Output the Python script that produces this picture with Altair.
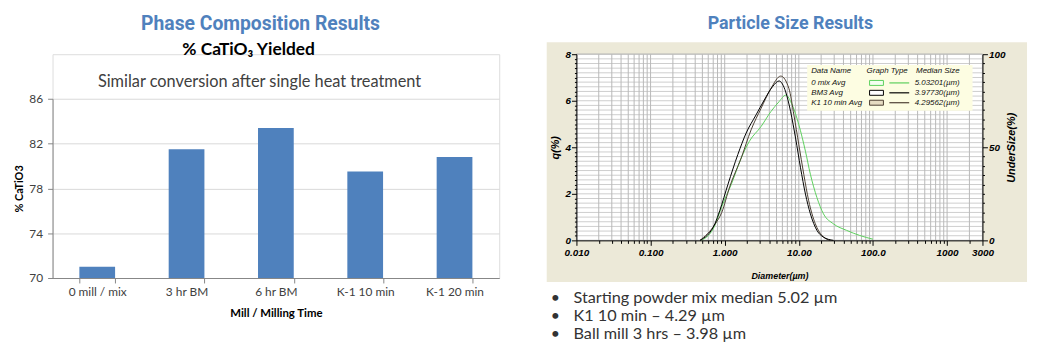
import altair as alt
import pandas as pd

# ---------------- data ----------------
mill_labels = ["0 mill / mix", "3 hr BM", "6 hr BM", "K-1 10 min", "K-1 20 min"]
catio3_pct = [71.0, 81.5, 83.4, 79.5, 80.8]
bar_y_ticks = [70, 74, 78, 82, 86]
left_title = ["Phase Composition Results"]
left_subtitle = ["% CaTiO₃ Yielded"]
left_note = ["Similar conversion after single heat treatment"]
right_title = ["Particle Size Results"]

series_names = ["0 mix Avg", "BM3 Avg", "K1 10 min Avg"]
median_sizes = ["5.03201(µm)", "3.97730(µm)", "4.29562(µm)"]
legend_headers = ["Data Name", "Graph Type", "Median Size"]

mix_d = [0.489, 0.736, 0.904, 1.228, 1.67, 2.154, 3.09, 4.19, 5.41, 6.65, 8.14, 10.0,
         12.28, 14.32, 17.54, 21.5, 29.3, 44.1, 66.5, 100.0]
mix_q = [0.0, 0.64, 1.42, 2.41, 3.54, 4.26, 4.89, 5.53, 5.96, 6.24, 5.82, 4.97,
         3.83, 2.84, 1.84, 1.14, 0.71, 0.43, 0.21, 0.05]
bm3_d = [0.464, 0.736, 0.858, 1.107, 1.504, 1.946, 2.646, 3.415, 4.406, 5.41, 6.65,
         7.75, 9.03, 10.54, 12.28, 14.32, 17.54, 21.5, 29.3]
bm3_q = [0.0, 0.71, 1.28, 2.41, 3.69, 4.61, 5.39, 6.03, 6.60, 6.85, 6.38,
         5.53, 4.40, 3.12, 1.99, 1.14, 0.43, 0.14, 0.0]
k1_d = [0.464, 0.736, 0.912, 1.166, 1.67, 2.27, 3.09, 4.19, 5.70, 7.36, 8.58, 10.0,
        11.66, 13.59, 16.7, 20.5, 26.5]
k1_q = [0.0, 0.68, 1.20, 2.30, 3.54, 4.75, 5.67, 6.52, 7.06, 6.52, 5.39, 4.11,
        2.84, 1.70, 0.71, 0.21, 0.0]

diam_tick_values = [0.01, 0.1, 1, 10, 100, 1000, 3000]
diam_tick_labels = ["0.010", "0.100", "1.000", "10.00", "100.0", "1000", "3000"]
decade_starts = [0.01, 0.1, 1, 10, 100, 1000]
decade_steps = [1, 2, 3, 4, 5, 6, 7, 8, 9]
q_minor = [round(i * 0.2, 1) for i in range(41)]
under_minor = list(range(0, 101, 5))

bullet_lines = ["Starting powder mix median 5.02 µm",
                "K1 10 min – 4.29 µm",
                "Ball mill 3 hrs – 3.98 µm"]

# ---------------- styles ----------------
BLUE = "#4f81bd"
TFONT = "Roboto"
BFONT = "Lato"
AFONT = "Liberation Sans"
series_colors = ["#5ccf5c", "#000000", "#4d4033"]
swatch_fills = ["#f4fff0", "#ffffff", "#e6dcc2"]

grid_x = sorted(set([round(m * d, 6) for d in decade_starts for m in decade_steps
                     if m * d <= 3000] + [3000]))

one = pd.DataFrame({"k": [0]})

# ---------------- left: bar chart ----------------
W1, H1 = 451, 226
df_bar = pd.DataFrame({"mill": mill_labels, "pct": catio3_pct})

bars = alt.Chart(df_bar).mark_bar(color=BLUE).encode(
    x=alt.X("mill:N", sort=mill_labels,
            scale=alt.Scale(paddingInner=0.6, paddingOuter=0.3),
            axis=alt.Axis(title="Mill / Milling Time", labelAngle=0, tickBand="extent",
                          tickSize=5, labelFont=BFONT, labelFontSize=12, labelColor="#404040",
                          labelPadding=4, titleFont=BFONT, titleFontSize=11.5,
                          titleFontWeight="bold", titleColor="#000000", titlePadding=10,
                          domainColor="#868686", tickColor="#868686", grid=False)),
    y=alt.Y("pct:Q", scale=alt.Scale(domain=[70, 86], nice=False, zero=False,
                                     range=[H1, 45]),
            axis=alt.Axis(values=bar_y_ticks, title="% CaTiO3", tickSize=5,
                          labelFont=BFONT, labelFontSize=12, labelColor="#404040",
                          labelPadding=5, titleFont=BFONT, titleFontSize=11,
                          titleFontWeight="bold", titleColor="#000000", titlePadding=4,
                          domainColor="#868686", tickColor="#868686",
                          grid=True, gridColor="#d9d9d9")),
    y2=alt.datum(70),
)

t1 = alt.Chart(pd.DataFrame({"t": left_title})).mark_text(
    font=TFONT, fontSize=19.5, fontWeight="bold", color=BLUE, baseline="middle",
    align="center").encode(text="t:N", x=alt.value(210), y=alt.value(-30))
t2 = alt.Chart(pd.DataFrame({"t": left_subtitle})).mark_text(
    font=BFONT, fontSize=17.5, fontWeight="bold", color="#000000", baseline="middle",
    align="center").encode(text="t:N", x=alt.value(198), y=alt.value(-4))
note = alt.Chart(pd.DataFrame({"t": left_note})).mark_text(
    font=BFONT, fontSize=16.5, color="#404040", baseline="middle", align="center"
).encode(text="t:N", x=alt.value(209), y=alt.value(28))

left = alt.layer(bars, t1, t2, note).properties(width=W1, height=H1)

# ---------------- right: particle size ----------------
W2, H2 = 410, 188
x_scale = alt.Scale(type="log", domain=[0.01, 3000], nice=False)
q_scale = alt.Scale(domain=[0, 8], nice=False)
row_scale = alt.Scale(domain=[0, 2], range=[29, 49], nice=False, zero=False)
bullet_scale = alt.Scale(domain=[0, 2], range=[246, 283], nice=False, zero=False)
color_scale = alt.Scale(domain=series_names, range=series_colors)

major_test = "indexof(" + str(diam_tick_values) + ", datum.value) >= 0"
label_expr = " : ".join(
    f"datum.value == {v} ? '{l}'" for v, l in zip(diam_tick_values, diam_tick_labels)
) + " : ''"

x_axis = alt.Axis(values=grid_x, labelExpr=label_expr, title="Diameter(µm)",
                  tickSize={"condition": {"test": major_test, "value": 5}, "value": 3},
                  labelFont=AFONT, labelFontSize=10, labelFontStyle="italic",
                  labelFontWeight="bold", labelColor="#000000", labelPadding=2,
                  titleFont=AFONT, titleFontSize=9, titleFontStyle="italic",
                  titleFontWeight="bold", titleColor="#000000", titlePadding=14,
                  domainColor="#000000", tickColor="#000000", grid=False, zindex=1,
                  labelFlush=False, labelOverlap=False)

even_test = "abs(datum.value - 2*round(datum.value/2)) < 0.01"
q_axis = alt.Axis(orient="left", values=q_minor,
                  labelExpr=f"({even_test}) ? format(datum.value, 'd') : ''",
                  tickSize={"condition": {"test": even_test, "value": 5}, "value": 2},
                  title="q(%)", labelFont=AFONT, labelFontSize=10, labelFontStyle="italic",
                  labelFontWeight="bold", labelColor="#000000", labelPadding=1,
                  titleFont=AFONT, titleFontSize=11, titleFontStyle="italic",
                  titleFontWeight="bold", titleColor="#000000", titlePadding=5,
                  domainColor="#000000", tickColor="#000000", grid=False, zindex=1,
                  labelOverlap=False, labelFlush=False)

under_axis = alt.Axis(orient="right", values=under_minor,
                      labelExpr="datum.value % 50 == 0 ? format(datum.value, 'd') : ''",
                      tickSize={"condition": {"test": "datum.value % 50 == 0", "value": 5},
                                "value": 2},
                      title="UnderSize(%)", titleAngle=270, labelFont=AFONT,
                      labelFontSize=10, labelFontStyle="italic", labelFontWeight="bold",
                      labelColor="#000000", labelPadding=1, titleFont=AFONT,
                      titleFontSize=11, titleFontStyle="italic", titleFontWeight="bold",
                      titleColor="#000000", titlePadding=12, domainColor="#000000",
                      tickColor="#000000", grid=False, zindex=1, labelOverlap=False,
                      labelFlush=False)

panel_bg = alt.Chart(one).mark_rect(color="#ece9d8").encode(
    x=alt.value(-30), x2=alt.value(455), y=alt.value(-12), y2=alt.value(230))
plot_bg = alt.Chart(one).mark_rect(fill="#ffffff", stroke="#9a9a9a", strokeWidth=1).encode(
    x=alt.value(0), x2=alt.value(W2), y=alt.value(0), y2=alt.value(H2))

vgrid = alt.Chart(pd.DataFrame({"gx": grid_x})).mark_rule(
    color="#b8b8b8", strokeWidth=1).encode(
    x=alt.X("gx:Q", scale=x_scale, axis=x_axis))
hgrid = alt.Chart(pd.DataFrame({"gq": q_minor})).mark_rule(
    color="#cdcdcd", strokeWidth=1).encode(
    y=alt.Y("gq:Q", scale=q_scale, axis=None))

df_curves = pd.concat([
    pd.DataFrame({"d": mix_d, "q": mix_q, "series": series_names[0]}),
    pd.DataFrame({"d": k1_d, "q": k1_q, "series": series_names[2]}),
    pd.DataFrame({"d": bm3_d, "q": bm3_q, "series": series_names[1]}),
], ignore_index=True)

curves = alt.Chart(df_curves).mark_line(strokeWidth=1, interpolate="monotone").encode(
    x=alt.X("d:Q", scale=x_scale, axis=x_axis),
    y=alt.Y("q:Q", scale=q_scale, axis=q_axis),
    color=alt.Color("series:N", scale=color_scale, legend=None),
    detail="series:N",
)

under = alt.Chart(pd.DataFrame({"u": [0, 100]})).mark_point(opacity=0).encode(
    y=alt.Y("u:Q", scale=alt.Scale(domain=[0, 100], nice=False), axis=under_axis))

legend_box = alt.Chart(one).mark_rect(color="#fdfde2").encode(
    x=alt.value(233), x2=alt.value(400), y=alt.value(11), y2=alt.value(57))

hdr_x = [237, 293, 343]
headers = [
    alt.Chart(pd.DataFrame({"h": [h]})).mark_text(
        font=AFONT, fontSize=8, fontStyle="italic", color="#111111",
        align="left", baseline="middle").encode(
        text="h:N", x=alt.value(xp), y=alt.value(17))
    for h, xp in zip(legend_headers, hdr_x)
]

df_leg = pd.DataFrame({"name": series_names, "median": median_sizes, "row": [0, 1, 2]})
leg_names = alt.Chart(df_leg).mark_text(
    font=AFONT, fontSize=8, fontStyle="italic", color="#111111",
    align="left", baseline="middle").encode(
    text="name:N", x=alt.value(237), y=alt.Y("row:Q", scale=row_scale, axis=None))
leg_swatch = alt.Chart(df_leg).mark_point(
    shape="M-1.4,-0.5H1.4V0.5H-1.4Z", size=100, filled=True, strokeWidth=1, opacity=1).encode(
    x=alt.value(303), y=alt.Y("row:Q", scale=row_scale, axis=None),
    fill=alt.Fill("name:N", scale=alt.Scale(domain=series_names, range=swatch_fills),
                  legend=None),
    stroke=alt.Stroke("name:N", scale=color_scale, legend=None))
leg_line = alt.Chart(df_leg).mark_rule(strokeWidth=1.2).encode(
    x=alt.value(316), x2=alt.value(336), y=alt.Y("row:Q", scale=row_scale, axis=None),
    color=alt.Color("name:N", scale=color_scale, legend=None))
leg_median = alt.Chart(df_leg).mark_text(
    font=AFONT, fontSize=8, fontStyle="italic", color="#111111",
    align="right", baseline="middle").encode(
    text="median:N", x=alt.value(387), y=alt.Y("row:Q", scale=row_scale, axis=None))

df_bul = pd.DataFrame({"t": bullet_lines, "row": [0, 1, 2]})
bul_dots = alt.Chart(df_bul).mark_text(
    text="•", font=BFONT, fontSize=16, color="#333333", align="left", baseline="middle").encode(
    x=alt.value(-26), y=alt.Y("row:Q", scale=bullet_scale, axis=None))
bul_text = alt.Chart(df_bul).mark_text(
    font=BFONT, fontSize=16.4, color="#333333", align="left", baseline="middle").encode(
    text="t:N", x=alt.value(-3), y=alt.Y("row:Q", scale=bullet_scale, axis=None))

rtitle = alt.Chart(pd.DataFrame({"t": right_title})).mark_text(
    font=TFONT, fontSize=18, fontWeight="bold", color=BLUE, baseline="middle",
    align="center").encode(text="t:N", x=alt.value(216), y=alt.value(-30))

right = alt.layer(
    panel_bg, plot_bg, hgrid, vgrid, curves, under, legend_box, *headers,
    leg_names, leg_swatch, leg_line, leg_median, bul_dots, bul_text, rtitle
).resolve_scale(y="independent").properties(width=W2, height=H2)

chart = alt.hconcat(left, right, spacing=46).properties(
    padding={"left": 5, "top": 4, "right": 2, "bottom": 0}
).configure_view(stroke=None).configure(background="#ffffff")

chart.save("out.html", embed_options={"renderer": "svg", "actions": False})
